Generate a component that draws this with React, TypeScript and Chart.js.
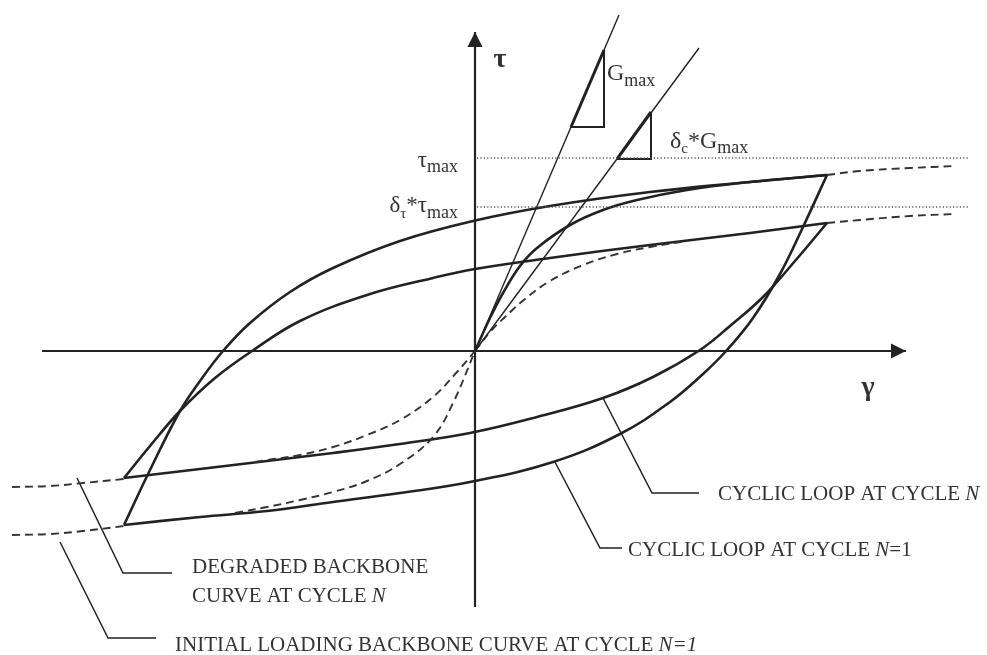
import { useEffect, useRef } from "react";
import { Chart, registerables } from "chart.js";

Chart.register(...registerables);

// ---- Curves, as [γ, τ] pairs in the diagram's own units (origin at the axes' crossing) ----

// Hysteresis loop at cycle N = 1 (outer loop)
const loopN1Upper: number[][] = [
  [-3.51, -1.74], [-3.25, -1.19], [-2.95, -0.6], [-2.75, -0.3], [-2.52, 0.0],
  [-2.25, 0.28], [-1.85, 0.59], [-1.42, 0.83], [-0.75, 1.1], [-0.02, 1.3],
  [0.75, 1.45], [1.75, 1.59], [2.75, 1.69], [3.52, 1.76],
];
const loopN1Lower: number[][] = [
  [-3.51, -1.74], [-2.75, -1.66], [-2.08, -1.6], [-1.42, -1.51], [-0.75, -1.42],
  [-0.05, -1.31], [0.78, -1.11], [1.45, -0.83], [1.95, -0.51], [2.28, -0.23],
  [2.52, 0.01], [2.78, 0.33], [3.05, 0.77], [3.28, 1.24], [3.52, 1.76],
];

// Hysteresis loop at cycle N (degraded loop)
const loopNUpper: number[][] = [
  [-3.51, -1.27], [-3.25, -0.95], [-2.95, -0.6], [-2.6, -0.27], [-2.23, 0.0],
  [-1.75, 0.3], [-1.08, 0.56], [-0.42, 0.73], [0.0, 0.82], [0.75, 0.93],
  [1.75, 1.06], [2.75, 1.18], [3.52, 1.28],
];
const loopNLower: number[][] = [
  [-3.51, -1.27], [-2.75, -1.18], [-2.08, -1.1], [-1.42, -1.02], [-0.75, -0.93],
  [-0.05, -0.82], [0.62, -0.66], [1.28, -0.47], [1.78, -0.26], [2.25, 0.01],
  [2.55, 0.25], [2.88, 0.54], [3.2, 0.9], [3.52, 1.28],
];

// Initial loading backbone (cycle N = 1)
const initialBackboneSolid: number[][] = [
  [0, 0], [0.15, 0.33], [0.28, 0.58], [0.45, 0.85], [0.62, 1.03], [0.95, 1.26],
  [1.28, 1.41], [1.62, 1.51], [2.12, 1.61], [2.75, 1.69], [3.52, 1.76],
];
const initialBackboneNeg: number[][] = [
  [-2.4, -1.62], [-2.08, -1.56], [-1.75, -1.49], [-1.42, -1.41], [-1.08, -1.3],
  [-0.75, -1.13], [-0.42, -0.86], [-0.22, -0.52], [0, 0],
];
const initialBackboneRight: number[][] = [
  [3.52, 1.76], [3.85, 1.8], [4.35, 1.83], [4.8, 1.85],
];
const initialBackboneLeft: number[][] = [
  [-4.63, -1.84], [-4.25, -1.83], [-3.92, -1.8], [-3.51, -1.75],
];

// Degraded backbone (cycle N)
const degradedBackbonePos: number[][] = [
  [0, 0], [0.15, 0.19], [0.3, 0.34], [0.5, 0.52], [0.75, 0.7], [1.08, 0.86],
  [1.42, 0.97], [1.75, 1.04], [2.12, 1.1],
];
const degradedBackboneNeg: number[][] = [
  [-2.2, -1.11], [-2.08, -1.09], [-1.75, -1.04], [-1.42, -0.96], [-1.08, -0.84],
  [-0.75, -0.69], [-0.42, -0.46], [-0.18, -0.21], [0, 0],
];
const degradedBackboneRight: number[][] = [
  [3.52, 1.28], [3.85, 1.31], [4.35, 1.35], [4.8, 1.37],
];
const degradedBackboneLeft: number[][] = [
  [-4.63, -1.36], [-4.25, -1.35], [-3.92, -1.32], [-3.51, -1.28],
];

// Stiffness lines and their slope triangles
const gmaxLine: number[][] = [[0, 0], [1.44, 3.36]];
const degradedGmaxLine: number[][] = [[0, 0], [2.24, 3.03]];
const gmaxTriangleLegs: number[][] = [[0.96, 2.24], [1.29, 2.24], [1.29, 3.01]];
const gmaxTriangleHyp: number[][] = [[0.96, 2.24], [1.29, 3.01]];
const degradedTriangleLegs: number[][] = [[1.42, 1.92], [1.76, 1.92], [1.76, 2.39]];
const degradedTriangleHyp: number[][] = [[1.42, 1.92], [1.76, 2.39]];

// Stress levels
const tauMaxLevel = 1.93;
const degradedTauLevel = 1.44;
const levelSpan = [0.02, 4.95];

// Axes
const gammaAxis: number[][] = [[-4.33, 0], [4.31, 0]];
const tauAxis: number[][] = [[0, -2.56], [0, 3.19]];

// Callout leaders
const leaderLoopN: number[][] = [[1.28, -0.47], [1.77, -1.42], [2.24, -1.42]];
const leaderLoopN1: number[][] = [[0.8, -1.11], [1.25, -1.97], [1.47, -1.97]];
const leaderDegraded: number[][] = [[-3.98, -1.27], [-3.52, -2.22], [-3.03, -2.22]];
const leaderInitial: number[][] = [[-4.15, -1.91], [-3.67, -2.87], [-3.19, -2.87]];

// ---- Text ----
type Run = { t: string; size: number; italic?: boolean; bold?: boolean; dy?: number };
type Label = {
  at: number[];
  align: "left" | "right" | "center";
  baseline?: CanvasTextBaseline;
  runs: Run[];
};

const SERIF = "'Liberation Serif', 'DejaVu Serif', serif";
const INK = "#222";
const TEXT = "#333";

const labels: Label[] = [
  { at: [0.25, 2.91], align: "center", baseline: "middle", runs: [{ t: "τ", size: 28, bold: true }] },
  { at: [3.93, -0.37], align: "center", baseline: "middle", runs: [{ t: "γ", size: 28, bold: true }] },
  {
    at: [-0.17, 1.84], align: "right",
    runs: [{ t: "τ", size: 23 }, { t: "max", size: 18, dy: 5 }],
  },
  {
    at: [-0.17, 1.39], align: "right",
    runs: [
      { t: "δ", size: 23 }, { t: "τ", size: 15, dy: 6 }, { t: "*", size: 23 },
      { t: "τ", size: 23 }, { t: "max", size: 18, dy: 6 },
    ],
  },
  {
    at: [1.32, 2.71], align: "left",
    runs: [{ t: "G", size: 24 }, { t: "max", size: 18, dy: 6 }],
  },
  {
    at: [1.95, 2.03], align: "left",
    runs: [
      { t: "δ", size: 24 }, { t: "c", size: 15, dy: 5 }, { t: "*", size: 24 },
      { t: "G", size: 24 }, { t: "max", size: 18, dy: 5 },
    ],
  },
  { at: [-2.83, -2.22], align: "left", runs: [{ t: "DEGRADED BACKBONE", size: 21 }] },
  {
    at: [-2.83, -2.51], align: "left",
    runs: [{ t: "CURVE AT CYCLE ", size: 21 }, { t: "N", size: 21, italic: true }],
  },
  {
    at: [-3.0, -3.0], align: "left",
    runs: [
      { t: "INITIAL LOADING BACKBONE CURVE AT CYCLE ", size: 21 },
      { t: "N=1", size: 21, italic: true },
    ],
  },
  {
    at: [2.43, -1.49], align: "left",
    runs: [{ t: "CYCLIC LOOP AT CYCLE ", size: 21 }, { t: "N", size: 21, italic: true }],
  },
  {
    at: [1.53, -2.05], align: "left",
    runs: [
      { t: "CYCLIC LOOP AT CYCLE ", size: 21 },
      { t: "N", size: 21, italic: true },
      { t: "=1", size: 21 },
    ],
  },
];

const toXY = (pts: number[][]) => pts.map(([x, y]) => ({ x, y }));

const line = (pts: number[][], width: number, opts: Record<string, unknown> = {}) => ({
  data: toXY(pts),
  showLine: true,
  borderColor: INK,
  borderWidth: width,
  pointRadius: 0,
  tension: 0,
  borderCapStyle: "butt",
  borderJoinStyle: "miter",
  ...opts,
});

const smooth = { tension: 0.4 };
const dashed = { borderDash: [8, 5], borderColor: "#333", tension: 0.4 };
const dotted = { borderDash: [1.2, 2.2], borderColor: "#555" };

const fontOf = (r: Run) =>
  `${r.italic ? "italic " : ""}${r.bold ? "bold " : ""}${r.size}px ${SERIF}`;

const annotations = {
  id: "annotations",
  afterDatasetsDraw(chart: Chart) {
    const { ctx } = chart;
    const sx = chart.scales.x;
    const sy = chart.scales.y;
    ctx.save();

    // arrowheads at the ends of both axes
    ctx.fillStyle = INK;
    const gx = sx.getPixelForValue(gammaAxis[1][0]);
    const gy = sy.getPixelForValue(gammaAxis[1][1]);
    ctx.beginPath();
    ctx.moveTo(gx, gy);
    ctx.lineTo(gx - 15, gy - 7.5);
    ctx.lineTo(gx - 15, gy + 7.5);
    ctx.closePath();
    ctx.fill();
    const tx = sx.getPixelForValue(tauAxis[1][0]);
    const ty = sy.getPixelForValue(tauAxis[1][1]);
    ctx.beginPath();
    ctx.moveTo(tx, ty);
    ctx.lineTo(tx - 7.5, ty + 15);
    ctx.lineTo(tx + 7.5, ty + 15);
    ctx.closePath();
    ctx.fill();

    // labels
    ctx.fillStyle = TEXT;
    for (const lb of labels) {
      const x = sx.getPixelForValue(lb.at[0]);
      const y = sy.getPixelForValue(lb.at[1]);
      ctx.textBaseline = lb.baseline ?? "alphabetic";
      ctx.textAlign = "left";
      const widths = lb.runs.map((r) => {
        ctx.font = fontOf(r);
        return ctx.measureText(r.t).width;
      });
      const total = widths.reduce((a, b) => a + b, 0);
      let cx = lb.align === "right" ? x - total : lb.align === "center" ? x - total / 2 : x;
      lb.runs.forEach((r, i) => {
        ctx.font = fontOf(r);
        ctx.fillText(r.t, cx, y + (r.dy ?? 0));
        cx += widths[i];
      });
    }
    ctx.restore();
  },
};

export default function App() {
  const ref = useRef<HTMLCanvasElement>(null);

  useEffect(() => {
    const canvas = ref.current;
    if (!canvas) return;
    const chart = new Chart(canvas, {
      type: "scatter",
      data: {
        datasets: [
          line(gammaAxis, 2.2),
          line(tauAxis, 2.2),
          line([[levelSpan[0], tauMaxLevel], [levelSpan[1], tauMaxLevel]], 1.4, dotted),
          line([[levelSpan[0], degradedTauLevel], [levelSpan[1], degradedTauLevel]], 1.4, dotted),
          line(gmaxLine, 1.4),
          line(degradedGmaxLine, 1.4),
          line(gmaxTriangleLegs, 2),
          line(gmaxTriangleHyp, 3),
          line(degradedTriangleLegs, 2),
          line(degradedTriangleHyp, 3),
          line(initialBackboneNeg, 1.9, dashed),
          line(initialBackboneRight, 1.9, dashed),
          line(initialBackboneLeft, 1.9, dashed),
          line(degradedBackbonePos, 1.9, dashed),
          line(degradedBackboneNeg, 1.9, dashed),
          line(degradedBackboneRight, 1.9, dashed),
          line(degradedBackboneLeft, 1.9, dashed),
          line(loopN1Upper, 2.6, smooth),
          line(loopN1Lower, 2.6, smooth),
          line(loopNUpper, 2.6, smooth),
          line(loopNLower, 2.6, smooth),
          line(initialBackboneSolid, 2.6, smooth),
          line(leaderLoopN, 1.5),
          line(leaderLoopN1, 1.5),
          line(leaderDegraded, 1.5),
          line(leaderInitial, 1.5),
        ] as any,
      },
      options: {
        animation: false,
        responsive: false,
        maintainAspectRatio: false,
        devicePixelRatio: 1,
        layout: { padding: 0 },
        events: [],
        plugins: { legend: { display: false }, tooltip: { enabled: false } },
        scales: {
          x: { type: "linear", min: -4.75, max: 5.12, display: false },
          y: { type: "linear", min: -3.04, max: 3.51, display: false },
        },
      },
      plugins: [annotations],
    });
    return () => chart.destroy();
  }, []);

  return (
    <div style={{ position: "fixed", left: 0, top: 0, width: 987, height: 655, background: "#fff" }}>
      <canvas ref={ref} width={987} height={655} style={{ display: "block", width: 987, height: 655 }} />
    </div>
  );
}
